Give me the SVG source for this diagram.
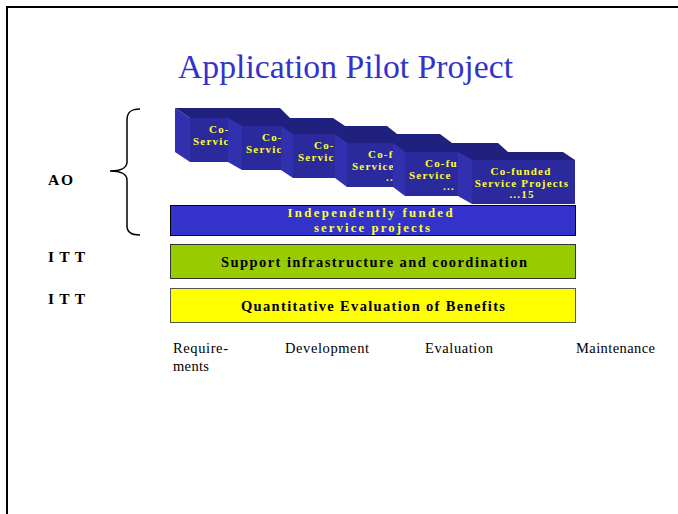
<svg xmlns="http://www.w3.org/2000/svg" width="678" height="514" viewBox="0 0 678 514">
<style>
.frame{fill:none;stroke:#000;stroke-width:2}
.title{font-family:"Liberation Serif","Times New Roman",serif;font-size:33px;fill:#3333cc}
.top{fill:#20207e}
.side{fill:#3131b0}
.front{fill:#2a2a9c}
.bt{font-family:"Liberation Serif","Times New Roman",serif;font-size:11px;font-weight:bold;fill:#ffff33;letter-spacing:1.2px}
.bar{stroke-width:1}
.bartxt{font-family:"Liberation Serif","Times New Roman",serif;font-size:14.5px;font-weight:bold;text-anchor:middle}
.bluetxt{font-family:"Liberation Serif","Times New Roman",serif;font-size:12.8px;font-weight:bold;text-anchor:middle;fill:#ffff33}
.lbl{font-family:"Liberation Serif","Times New Roman",serif;font-size:15.5px;font-weight:bold;fill:#000}
.phase{font-family:"Liberation Serif","Times New Roman",serif;font-size:14.5px;fill:#000}
.brace{fill:none;stroke:#000;stroke-width:1.5}
</style>
<rect width="678" height="514" fill="#fff"/>
<rect class="frame" x="7" y="7" width="690" height="530"/>
<text class="title" x="178" y="78" textLength="335" lengthAdjust="spacingAndGlyphs">Application Pilot Project</text>

<g id="box1">
<polygon class="top" points="175,108 280,108 290,118 190,118"/>
<polygon class="side" points="175,108 190,118 190,162 175,152"/>
<rect class="front" x="190" y="118" width="100" height="44"/>
<text class="bt" x="209" y="133">Co-</text>
<text class="bt" x="193" y="144.5">Servic</text>
</g>
<g id="box2">
<polygon class="top" points="228,118 333,118 345,126 242,126"/>
<polygon class="side" points="228,118 242,126 242,170 228,162"/>
<rect class="front" x="242" y="126" width="103" height="44"/>
<text class="bt" x="262" y="141">Co-</text>
<text class="bt" x="246" y="152.5">Servic</text>
</g>
<g id="box3">
<polygon class="top" points="281,126 387,126 397,134 293,134"/>
<polygon class="side" points="281,126 293,134 293,178 281,170"/>
<rect class="front" x="293" y="134" width="104" height="44"/>
<text class="bt" x="314" y="149">Co-</text>
<text class="bt" x="298" y="160.5">Servic</text>
</g>
<g id="box4">
<polygon class="top" points="335,134 440,134 452,143 347,143"/>
<polygon class="side" points="335,134 347,143 347,187 335,178"/>
<rect class="front" x="347" y="143" width="105" height="44"/>
<text class="bt" x="368" y="158">Co-f</text>
<text class="bt" x="352" y="169.5">Service</text>
<text class="bt" x="386" y="181">...</text>
</g>
<g id="box5">
<polygon class="top" points="393,143 498,143 508,152 405,152"/>
<polygon class="side" points="393,143 405,152 405,196 393,187"/>
<rect class="front" x="405" y="152" width="103" height="44"/>
<text class="bt" x="425" y="167">Co-fu</text>
<text class="bt" x="409" y="178.5">Service</text>
<text class="bt" x="443" y="190">...</text>
</g>
<g id="box6">
<polygon class="top" points="458,152 563,152 575,160 472,160"/>
<polygon class="side" points="458,152 472,160 472,204 458,196"/>
<rect class="front" x="472" y="160" width="103" height="44"/>
<text class="bt" x="521" y="175" text-anchor="middle">Co-funded</text>
<text class="bt" x="522" y="186.5" text-anchor="middle">Service Projects</text>
<text class="bt" x="522" y="198" text-anchor="middle">...15</text>
</g>

<g id="independent">
<rect class="bar" x="170.5" y="205.5" width="405" height="30" fill="#3333cc" stroke="#000"/>
<text class="bluetxt" x="370" y="217" textLength="165" lengthAdjust="spacing">Independently funded</text>
<text class="bluetxt" x="372" y="231.5" textLength="116" lengthAdjust="spacing">service projects</text>
</g>
<g id="support">
<rect class="bar" x="170.5" y="244.5" width="405" height="34" fill="#99cc00" stroke="#333"/>
<text class="bartxt" x="374" y="266.5" fill="#000" textLength="306" lengthAdjust="spacing">Support infrastructure and coordination</text>
</g>
<g id="evaluation">
<rect class="bar" x="170.5" y="288.5" width="405" height="34" fill="#ffff00" stroke="#555"/>
<text class="bartxt" x="373" y="310.5" fill="#000" textLength="264" lengthAdjust="spacing">Quantitative Evaluation of Benefits</text>
</g>

<g id="labels">
<text class="lbl" x="48" y="185" textLength="25" lengthAdjust="spacing">AO</text>
<text class="lbl" x="48" y="262" textLength="37" lengthAdjust="spacing">ITT</text>
<text class="lbl" x="48" y="304" textLength="37" lengthAdjust="spacing">ITT</text>
</g>
<g id="brace">
<path class="brace" d="M140,109 C131,109 127,112 127,120 L127,162 C127,168 120,171 110,171 C120,171 127,174 127,180 L127,226 C127,232 131,235 140,235"/>
</g>

<g id="phases">
<text class="phase" x="173" y="353" textLength="55" lengthAdjust="spacing">Require-</text>
<text class="phase" x="173" y="371" textLength="36" lengthAdjust="spacing">ments</text>
<text class="phase" x="285" y="353" textLength="84" lengthAdjust="spacing">Development</text>
<text class="phase" x="425" y="353" textLength="68" lengthAdjust="spacing">Evaluation</text>
<text class="phase" x="576" y="353" textLength="79" lengthAdjust="spacing">Maintenance</text>
</g>
</svg>
